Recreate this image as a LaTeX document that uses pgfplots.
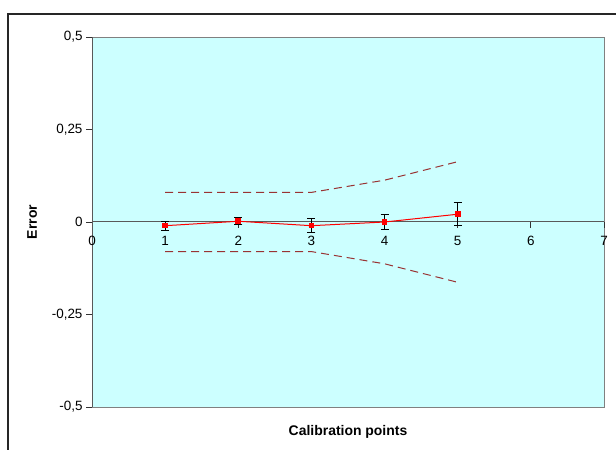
\documentclass[border=0pt]{standalone}
\usepackage{pgfplots}
\pgfplotsset{compat=1.18}
\usepackage{fontspec}
\setmainfont{Liberation Sans}
\definecolor{bgc}{HTML}{CCFFFF}
\definecolor{dred}{HTML}{993333}
\begin{document}
\begin{tikzpicture}[x=1bp,y=1bp]
\path[use as bounding box] (0,0) rectangle (616,450);
\draw[line width=1.2bp, black!85] (8,-2) -- (8,436) -- (618,436);
\begin{axis}[
 at={(92bp,43bp)}, anchor=south west,
 width=512bp, height=370bp, scale only axis,
 xmin=0, xmax=7, ymin=-0.5, ymax=0.5,
 axis x line=middle, axis y line=left,
 axis line style={black!65, -, line width=1bp},
 axis background/.style={fill=bgc, draw=black!50, line width=0.8bp},
 xtick={0,1,2,3,4,5,6,7},
 ytick={-0.5,-0.25,0,0.25,0.5},
 yticklabels={{-0,5},{-0,25},{0},{0,25},{0,5}},
 tick align=outside, major tick length=6bp,
 tick style={black!80, line width=0.8bp},
 ticklabel style={font=\fontsize{13.5}{16}\selectfont},
 xticklabel style={yshift=-5bp},
 /pgf/number format/assume math mode=true,
 hide obscured x ticks=false,
 hide obscured y ticks=false,
 xlabel={Calibration points}, ylabel={Error},
 label style={font=\bfseries\fontsize{14}{17}\selectfont},
 xlabel style={at={(rel axis cs:0.5,0)}, anchor=center, yshift=-25bp},
 ylabel style={at={(axis description cs:-0.117,0.5)}, anchor=center},
 clip=false,
]
\addplot[dred, line width=1bp, dash pattern=on 8bp off 5bp] coordinates {(1,0.08) (2,0.08) (3,0.08) (4,0.113) (5,0.163)};
\addplot[dred, line width=1bp, dash pattern=on 8bp off 5bp] coordinates {(1,-0.08) (2,-0.08) (3,-0.08) (4,-0.113) (5,-0.163)};
\addplot[red, line width=1bp, mark=square*, mark size=2.3bp, mark options={solid, fill=red},
  error bars/.cd, y dir=both, y explicit,
  error bar style={black, line width=0.9bp},
  error mark options={black, rotate=90, mark size=4bp, line width=0.9bp}]
  coordinates {(1,-0.01) +- (0,0.012) (2,0.002) +- (0,0.009) (3,-0.01) +- (0,0.019) (4,0) +- (0,0.021) (5,0.021) +- (0,0.031)};
\end{axis}
\end{tikzpicture}
\end{document}
